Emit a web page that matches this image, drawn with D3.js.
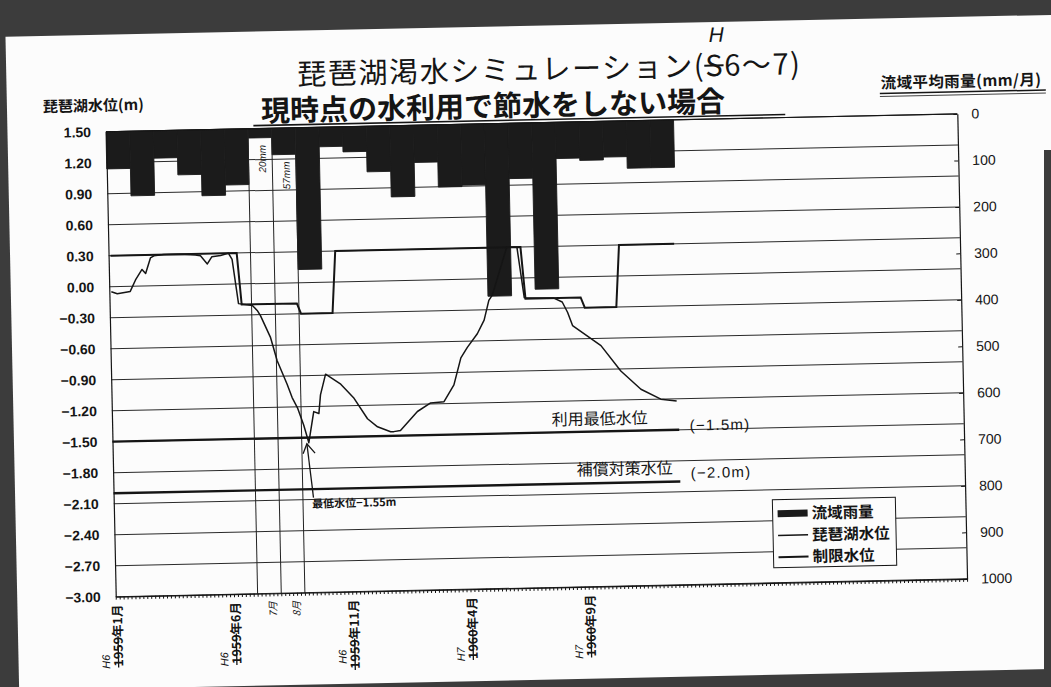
<!DOCTYPE html>
<html>
<head>
<meta charset="utf-8">
<script src="https://cdn.jsdelivr.net/npm/d3@7"></script>
<style>
  html, body { margin: 0; padding: 0; background: #3a3a3a; }
  svg { display: block; }
</style>
</head>
<body>
<svg id="chart" width="1051" height="687"></svg>
<script>
// ---- data -------------------------------------------------------------
// Monthly basin-average rainfall (mm/month), H6 Jan .. H7 Dec
const rainMonths = ["H6.1","H6.2","H6.3","H6.4","H6.5","H6.6","H6.7","H6.8","H6.9","H6.10","H6.11","H6.12",
                    "H7.1","H7.2","H7.3","H7.4","H7.5","H7.6","H7.7","H7.8","H7.9","H7.10","H7.11","H7.12"];
const rainfall = [80, 139, 59, 96, 142, 120, 20, 57, 305, 42, 54, 98,
                  153, 80, 134, 131, 371, 119, 358, 78, 83, 77, 102, 102];

// Simulated lake level (m): position in 5-day periods from H6 Jan 1, and level
const levelPeriod = [0.5, 2.0, 5.3, 6.7, 8.4, 9.3, 10.6, 11.5, 14, 18, 22, 23.3, 25.0, 26.2, 28.4, 30.4, 31.3, 32.7,
                     36.2, 37.4, 38.2, 40.6, 42.2, 44.6, 45.8, 47.1, 48.6, 49.8, 51.2, 52.5, 53.0, 54.4, 58.2, 61.5,
                     64.8, 67.3, 70.6, 71.4, 73.1, 77.5, 80.9, 84.3, 86.9, 88.8, 90.5, 93.1, 94.9, 96.2, 97.1, 101.0,
                     103.6, 105.2, 112.7, 114.8, 116.1, 117.3, 124.4, 129.3, 134.3, 139.3, 143.3];
const levelValue = [-0.05, -0.07, -0.05, 0.06, 0.16, 0.12, 0.27, 0.29, 0.30, 0.30, 0.29, 0.28, 0.20, 0.27, 0.28, 0.30, 0.24, -0.19,
                    -0.21, -0.26, -0.31, -0.52, -0.75, -0.98, -1.11, -1.21, -1.38, -1.55, -1.25, -1.27, -1.09, -0.89, -0.99, -1.13,
                    -1.33, -1.41, -1.46, -1.46, -1.45, -1.27, -1.19, -1.18, -1.02, -0.76, -0.66, -0.53, -0.40, -0.21, -0.16, 0.30,
                    0.30, -0.19, -0.20, -0.24, -0.34, -0.47, -0.67, -0.92, -1.10, -1.20, -1.22];

// Restriction water level: period ranges (inclusive) and level (m)
const limitFrom  = [0, 33, 48, 57, 105, 120, 129];
const limitTo    = [32, 47, 56, 104, 119, 128, 143];
const limitLevel = [0.30, -0.20, -0.30, 0.30, -0.20, -0.30, 0.30];

// Reference levels drawn across the simulated span
const refLevels = [-1.5, -2.0];
const refNames  = ["利用最低水位", "補償対策水位"];
const refTags   = ["(−1.5m)", "(−2.0m)"];

// Axis ticks
const levelTicks = [1.5, 1.2, 0.9, 0.6, 0.3, 0.0, -0.3, -0.6, -0.9, -1.2, -1.5, -1.8, -2.1, -2.4, -2.7, -3.0];
const rainTicks  = [0, 100, 200, 300, 400, 500, 600, 700, 800, 900, 1000];

// Category labels (every 30 periods)
const xLabelPeriod = [0, 30, 60, 90, 120];
const xLabelYear   = ["1959", "1959", "1959", "1960", "1960"];
const xLabelRest   = ["年1月", "年6月", "年11月", "年4月", "年9月"];
const xLabelEra    = ["H6", "H6", "H6", "H7", "H7"];

// Month boundary markers (month index from H6 Jan) and their notes
const markMonths = [6, 7, 8];
const markNotes  = ["7月", "8月"];
const notedRainMonths = [6, 7];

// ---- layout -----------------------------------------------------------
const W = 1051, H = 687;
const L = 110.5, R = 962, T = 123, B = 588;
const periodsPerMonth = 6, totalPeriods = 216;
const CJK = "'Noto Sans CJK JP', 'Noto Sans', sans-serif";
const NUM = "'Liberation Sans', Arial, sans-serif";
const INK = "#151515";
const BAR = "#1b1b1b";

const x  = d3.scaleLinear().domain([0, totalPeriods]).range([L, R]);
const yL = d3.scaleLinear().domain([-3, 1.5]).range([B, T]);
const yR = d3.scaleLinear().domain([0, 1000]).range([T, B]);

const svg = d3.select("#chart");
svg.append("rect").attr("width", W).attr("height", H).attr("fill", "#3c3c3c");

// the sheet is slightly skewed on the scanner bed
const page = svg.append("g").attr("transform", "rotate(-1.2,525,343)");
page.append("rect").attr("x", 12).attr("y", 26).attr("width", 1080).attr("height", 654).attr("fill", "#fcfcfc");

// sequential text runs, some struck through; returns the placed parts
function runs(parent, parts, anchorEnd, spacing) {
  const g = parent.append("g");
  let cx = 0;
  const placed = parts.map(p => {
    const t = g.append("text").attr("x", cx).attr("y", 0)
      .attr("font-family", p.family).attr("font-size", p.size)
      .attr("font-weight", p.weight || "normal")
      .attr("font-style", p.style || "normal")
      .attr("letter-spacing", spacing || 0)
      .attr("fill", INK).text(p.text);
    const w = t.node().getComputedTextLength();
    const r = { x: cx, w: w, p: p };
    cx += w;
    return r;
  });
  placed.forEach(r => {
    if (r.p.strike) {
      g.append("line").attr("x1", r.x - 1).attr("x2", r.x + r.w - (spacing || 0) + 1)
        .attr("y1", -r.p.size * 0.36).attr("y2", -r.p.size * 0.36)
        .attr("stroke", INK).attr("stroke-width", r.p.strikeWidth || 1.6);
    }
  });
  if (anchorEnd) g.attr("transform", `translate(${-cx},0)`);
  return { g: g, placed: placed, width: cx };
}

// ---- titles -----------------------------------------------------------
const titleG = page.append("g").attr("transform", "translate(303,80)");
const title = runs(titleG, [
  { text: "琵琶湖渇水シミュレーション(", family: CJK, size: 29 },
  { text: "S", family: CJK, size: 29, strike: true, strikeWidth: 2 },
  { text: "6～7)", family: CJK, size: 29 }
], false, 1.6);
const sPart = title.placed[1];
titleG.append("text").attr("x", sPart.x + sPart.w / 2 + 2).attr("y", -34)
  .attr("text-anchor", "middle").attr("font-family", NUM).attr("font-size", 21)
  .attr("font-style", "italic").attr("fill", INK).text("H");

page.append("text").attr("x", 266).attr("y", 116)
  .attr("font-family", CJK).attr("font-size", 29).attr("font-weight", "bold")
  .attr("fill", INK).text("現時点の水利用で節水をしない場合");
page.append("line").attr("x1", 258).attr("x2", 790).attr("y1", 120).attr("y2", 120)
  .attr("stroke", INK).attr("stroke-width", 1.6);

page.append("text").attr("x", 48).attr("y", 102)
  .attr("font-family", CJK).attr("font-size", 15).attr("font-weight", "bold")
  .attr("fill", INK).text("琵琶湖水位(m)");

page.append("text").attr("x", 886).attr("y", 96)
  .attr("font-family", CJK).attr("font-size", 15.5).attr("font-weight", "bold")
  .attr("letter-spacing", 0.4)
  .attr("fill", INK).text("流域平均雨量(mm/月)");
page.append("line").attr("x1", 885).attr("x2", 1051).attr("y1", 101).attr("y2", 101)
  .attr("stroke", INK).attr("stroke-width", 1.5);
page.append("line").attr("x1", 885).attr("x2", 1051).attr("y1", 104).attr("y2", 104)
  .attr("stroke", INK).attr("stroke-width", 0.8);

// ---- plot -------------------------------------------------------------
const plot = page.append("g");

// horizontal grid at every level tick
plot.append("g").selectAll("line").data(levelTicks).join("line")
  .attr("x1", L).attr("x2", R)
  .attr("y1", d => yL(d)).attr("y2", d => yL(d))
  .attr("stroke", "#2a2a2a").attr("stroke-width", 1);

// monthly rainfall bars hanging from the top (stroked so neighbours join without seams)
plot.append("g").selectAll("rect").data(rainfall).join("rect")
  .attr("x", (d, i) => x(i * periodsPerMonth))
  .attr("width", (d, i) => x((i + 1) * periodsPerMonth) - x(i * periodsPerMonth))
  .attr("y", yR(0))
  .attr("height", d => yR(d) - yR(0))
  .attr("fill", BAR).attr("stroke", BAR).attr("stroke-width", 0.9);

// month boundary markers
plot.append("g").selectAll("line").data(markMonths).join("line")
  .attr("x1", d => x(d * periodsPerMonth)).attr("x2", d => x(d * periodsPerMonth))
  .attr("y1", T).attr("y2", B)
  .attr("stroke", "#222").attr("stroke-width", 1);

// rainfall notes for the dry months
notedRainMonths.forEach(m => {
  const cx = x((m + 0.5) * periodsPerMonth) + 2;
  const cy = yR(rainfall[m]) + 21;
  plot.append("text")
    .attr("transform", `translate(${cx},${cy}) rotate(-90)`)
    .attr("text-anchor", "middle").attr("dy", "0.35em")
    .attr("font-family", NUM).attr("font-size", 10).attr("font-style", "italic")
    .attr("fill", INK).text(rainfall[m] + "mm");
});

// reference levels
refLevels.forEach(v => {
  plot.append("line")
    .attr("x1", x(0)).attr("x2", x(143.8))
    .attr("y1", yL(v)).attr("y2", yL(v))
    .attr("stroke", INK).attr("stroke-width", 2.4);
});
plot.append("text").attr("x", 550).attr("y", yL(refLevels[0]) - 7)
  .attr("font-family", CJK).attr("font-size", 16).attr("fill", INK).text(refNames[0]);
plot.append("text").attr("x", 574).attr("y", yL(refLevels[1]) - 8)
  .attr("font-family", CJK).attr("font-size", 16).attr("fill", INK).text(refNames[1]);
refTags.forEach((t, i) => {
  plot.append("text").attr("x", 688).attr("y", yL(refLevels[i]) + (i === 0 ? 1 : -3))
    .attr("font-family", NUM).attr("font-size", 15).attr("letter-spacing", 1.2)
    .attr("fill", INK).text(t);
});

// restriction level (step line)
const limitPts = [];
limitFrom.forEach((f, i) => {
  limitPts.push([f + 0.5, limitLevel[i]]);
  limitPts.push([limitTo[i] + 0.5, limitLevel[i]]);
});
const line = d3.line().x(d => x(d[0])).y(d => yL(d[1]));
plot.append("path").datum(limitPts).attr("d", line)
  .attr("fill", "none").attr("stroke", INK).attr("stroke-width", 2);

// simulated lake level
const levelPts = levelPeriod.map((p, i) => [p, levelValue[i]]);
plot.append("path").datum(levelPts).attr("d", line)
  .attr("fill", "none").attr("stroke", INK).attr("stroke-width", 1.5)
  .attr("stroke-linejoin", "round");

// lowest level callout
const minIdx = d3.minIndex(levelValue);
const tipX = x(levelPeriod[minIdx]) - 2, tipY = yL(levelValue[minIdx]) + 1;
const ann = plot.append("g").attr("stroke", INK).attr("stroke-width", 1.3).attr("fill", "none");
ann.append("line").attr("x1", tipX + 5.5).attr("y1", tipY + 54).attr("x2", tipX).attr("y2", tipY);
ann.append("polyline").attr("points",
  `${tipX - 4},${tipY + 10} ${tipX},${tipY} ${tipX + 8},${tipY + 9.5}`);
plot.append("text").attr("x", tipX + 4).attr("y", tipY + 64)
  .attr("font-family", CJK).attr("font-size", 11).attr("font-weight", "bold")
  .attr("fill", INK).text("最低水位" + d3.format(".2f")(levelValue[minIdx]) + "m");

// ---- axes -------------------------------------------------------------
const fmtL = v => d3.format(".2f")(v).replace("-", "−");
const axL = plot.append("g").attr("transform", `translate(${L},0)`)
  .call(d3.axisLeft(yL).tickValues(levelTicks).tickFormat(fmtL).tickSize(0).tickPadding(15));
axL.selectAll("text").attr("font-family", NUM).attr("font-size", 14).attr("font-weight", "bold").attr("fill", INK);

const axR = plot.append("g").attr("transform", `translate(${R},0)`)
  .call(d3.axisRight(yR).tickValues(rainTicks).tickFormat(d3.format("d"))
    .tickSizeInner(-4).tickSizeOuter(0).tickPadding(14));
axR.selectAll("text").attr("font-family", NUM).attr("font-size", 14).attr("fill", INK);

const axB = plot.append("g").attr("transform", `translate(0,${B})`)
  .call(d3.axisBottom(x).tickValues(d3.range(0, totalPeriods + 1)).tickFormat("").tickSizeInner(3).tickSizeOuter(0));

[axL, axR, axB].forEach(a => {
  a.select(".domain").attr("stroke", INK).attr("stroke-width", 1.2);
  a.selectAll(".tick line").attr("stroke", INK);
});
plot.append("line").attr("x1", L).attr("x2", R).attr("y1", T).attr("y2", T)
  .attr("stroke", INK).attr("stroke-width", 1.2);

// category labels, written upward, year digits struck and era added by hand
xLabelPeriod.forEach((p, i) => {
  const g = plot.append("g")
    .attr("transform", `translate(${x(p + 0.5) + 4},${B + 8}) rotate(-90)`);
  runs(g, [
    { text: xLabelYear[i], family: CJK, size: 12.5, weight: "bold", strike: true, strikeWidth: 1.3 },
    { text: xLabelRest[i], family: CJK, size: 12.5, weight: "bold" }
  ], true);
  g.append("text").attr("x", -64).attr("y", -13)
    .attr("font-family", NUM).attr("font-size", 11).attr("font-style", "italic")
    .attr("fill", INK).text(xLabelEra[i]);
});
markNotes.forEach((t, i) => {
  const cx = x((markMonths[i] + 0.5) * periodsPerMonth) + 7;
  plot.append("text")
    .attr("transform", `translate(${cx},${B + 8}) rotate(-90)`)
    .attr("text-anchor", "end")
    .attr("font-family", CJK).attr("font-size", 10).attr("font-style", "italic")
    .attr("fill", INK).text(t);
});

// ---- legend -----------------------------------------------------------
const lg = page.append("g");
lg.append("rect").attr("x", 769).attr("y", 505).attr("width", 123).attr("height", 68)
  .attr("fill", "#fcfcfc").attr("stroke", INK).attr("stroke-width", 1);
const legendItems = ["流域雨量", "琵琶湖水位", "制限水位"];
legendItems.forEach((name, i) => {
  const cy = 519 + i * 21.7;
  if (i === 0) {
    lg.append("rect").attr("x", 774).attr("y", cy - 3.5).attr("width", 30).attr("height", 7).attr("fill", BAR);
  } else {
    lg.append("line").attr("x1", 774).attr("x2", 804).attr("y1", cy).attr("y2", cy)
      .attr("stroke", INK).attr("stroke-width", i === 2 ? 2 : 1.5);
  }
  lg.append("text").attr("x", 808).attr("y", cy + 5.5)
    .attr("font-family", CJK).attr("font-size", 15.5).attr("font-weight", "bold")
    .attr("fill", INK).text(name);
});

// dark scanner edge on the right
svg.append("rect").attr("x", 1044).attr("y", 150).attr("width", 7).attr("height", H - 150).attr("fill", "#3c3c3c");
</script>
</body>
</html>
